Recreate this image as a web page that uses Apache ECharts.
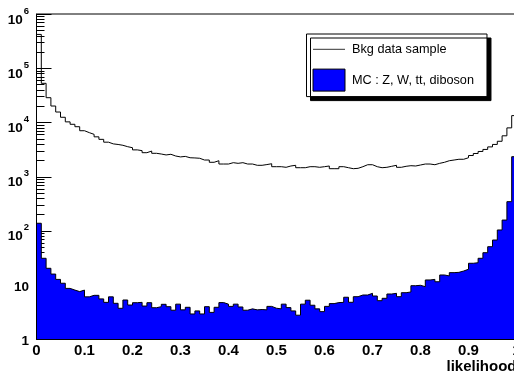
<!DOCTYPE html>
<html>
<head>
<meta charset="utf-8">
<script src="https://cdn.jsdelivr.net/npm/echarts@6/dist/echarts.min.js"></script>
<style>
html,body{margin:0;padding:0;background:#fff;}
#chart{width:514px;height:376px;}
</style>
</head>
<body>
<div id="chart"></div>
<script>
// ---- data ----
const nBins = 100;
const xRange = [0, 1];
const xTickLabels = ['0', '0.1', '0.2', '0.3', '0.4', '0.5', '0.6', '0.7', '0.8', '0.9', '1'];
const seriesNames = ['Bkg data sample', 'MC : Z, W, tt, diboson'];
const xTitle = 'likelihood';

const bkgData = [
  420000, 52500, 28500, 20000, 15500, 12400, 10200, 9200, 8300, 7000,
  6450, 6000, 5400, 4850, 4300, 4000, 3900, 3770, 3550, 3400,
  3100, 3000, 2750, 2950, 2680, 2600, 2500, 2570, 2390, 2300,
  2350, 2220, 2200, 2170, 2015, 2015, 1830, 1955, 1700, 1700,
  1800, 1750, 1800, 1700, 1700, 1610, 1610, 1660, 1720, 1517,
  1517, 1478, 1563, 1610, 1453, 1453, 1517, 1517, 1478, 1517,
  1563, 1393, 1393, 1517, 1453, 1393, 1416, 1517, 1650, 1650,
  1517, 1453, 1478, 1542, 1610, 1478, 1542, 1583, 1563, 1630,
  1700, 1700, 1650, 1750, 1830, 1955, 2015, 2080, 2080, 2220,
  2440, 2660, 2900, 3160, 3520, 3910, 4470, 5640, 7900, 13300
];

const mcData = [
  137, 30.9, 20.2, 15.8, 12.6, 10.7, 8.6, 8.0, 7.5, 8.0,
  6.0, 6.4, 6.4, 5.5, 4.75, 6.0, 4.56, 3.69, 5.25, 4.24,
  4.68, 4.75, 4.06, 4.68, 3.78, 3.95, 4.37, 3.95, 3.4, 4.4,
  3.45, 3.85, 2.9, 3.3, 2.9, 3.95, 3.1, 3.85, 4.7, 4.4,
  4.0, 4.4, 3.9, 3.4, 3.6, 3.45, 3.5, 3.45, 4.0, 3.7,
  3.6, 4.4, 3.8, 3.3, 2.75, 4.4, 5.2, 4.2, 3.6, 3.2,
  4.0, 4.5, 4.7, 4.75, 5.9, 4.76, 6.04, 6.49, 6.49, 6.97,
  6.22, 5.1, 5.64, 6.77, 6.97, 6.04, 7.16, 7.38, 9.64, 9.8,
  9.25, 12.3, 12.6, 11.4, 15.2, 14.6, 16.8, 17.0, 18.0, 19.4,
  25, 25.6, 30.9, 39.2, 50.6, 67.2, 103, 157, 343, 2320
];

const yMajorTicks = [1, 10, 100, 1000, 10000, 100000, 1000000];
const yMinorTicks = [];
for (let d = 0; d < 6; d++) for (let k = 2; k <= 9; k++) yMinorTicks.push(k * Math.pow(10, d));

// ---- helpers ----
const binW = (xRange[1] - xRange[0]) / nBins;
function stepData(vals) {
  const d = vals.map((v, i) => [xRange[0] + i * binW, v]);
  d.push([xRange[1], vals[vals.length - 1]]);
  return d;
}
const FONT = 'Liberation Sans, Arial, Helvetica, sans-serif';

const tickData = yMajorTicks.map(v => [0, v, 1]).concat(yMinorTicks.map(v => [0, v, 0]));

const chart = echarts.init(document.getElementById('chart'), null, { renderer: 'canvas' });
chart.setOption({
  animation: false,
  backgroundColor: '#fff',
  grid: {
    left: 36.5, top: 14, width: 480, height: 325,
    outerBoundsMode: 'none', containLabel: false,
    show: true, borderColor: '#000', borderWidth: 1, backgroundColor: 'transparent'
  },
  legend: {
    orient: 'vertical', left: 306.5, top: 34,
    padding: [6.5, 13, 5, 6], itemGap: 10.5, itemWidth: 32, itemHeight: 22,
    backgroundColor: '#fff', borderColor: '#000', borderWidth: 1,
    shadowColor: '#000', shadowBlur: 0, shadowOffsetX: 4, shadowOffsetY: 4,
    selectedMode: false,
    textStyle: { fontFamily: FONT, fontSize: 12.7, color: '#000', padding: [0, 0, 0, 2] },
    data: [
      { name: seriesNames[0], itemStyle: { color: 'transparent', borderWidth: 0 }, lineStyle: { color: '#333', width: 1 } },
      { name: seriesNames[1], icon: 'rect', itemStyle: { color: '#0000ff', borderColor: '#000', borderWidth: 1 } }
    ]
  },
  xAxis: {
    type: 'value', min: xRange[0], max: xRange[1], interval: 0.1,
    z: 5,
    name: xTitle, nameLocation: 'end', nameGap: 0,
    nameTextStyle: { fontFamily: FONT, fontWeight: 'bold', fontSize: 15, color: '#000', align: 'right', verticalAlign: 'top', padding: [20, 0, 0, 0] },
    axisLine: { show: true, lineStyle: { color: '#000', width: 1 } },
    axisTick: { show: false },
    splitLine: { show: false },
    axisLabel: {
      margin: 4, fontFamily: FONT, fontWeight: 'bold', fontSize: 15, color: '#000',
      showMinLabel: true, showMaxLabel: true, hideOverlap: false,
      formatter: v => xTickLabels[Math.round(v * 10)]
    }
  },
  yAxis: {
    type: 'log', logBase: 10, min: 1, max: 1000000,
    z: 5,
    axisLine: { show: true, lineStyle: { color: '#000', width: 1 } },
    axisTick: { show: false },
    splitLine: { show: false },
    axisLabel: {
      margin: 7.5, color: '#000', showMinLabel: true, showMaxLabel: true,
      padding: [5, 0, 0, 0],
      formatter: v => {
        const e = Math.round(Math.log10(v));
        if (e === 0) return '{p|1}';
        if (e === 1) return '{p|10}';
        return '{b|10}{s|' + e + '}';
      },
      rich: {
        p: { fontFamily: FONT, fontWeight: 'bold', fontSize: 13.5, color: '#000' },
        b: { fontFamily: FONT, fontWeight: 'bold', fontSize: 13.5, color: '#000', padding: [7, 0, 0, 0], verticalAlign: 'bottom' },
        s: { fontFamily: FONT, fontWeight: 'bold', fontSize: 9.5, color: '#000', verticalAlign: 'top', padding: [0, 0, 0, 1] }
      }
    }
  },
  series: [
    {
      type: 'custom', name: 'ticks', z: 1, silent: true,
      data: tickData,
      renderItem: (params, api) => {
        const p = api.coord([api.value(0), api.value(1)]);
        const len = api.value(2) ? 15 : 8;
        const y = Math.round(p[1]) + 0.5;
        return { type: 'line', shape: { x1: p[0], y1: y, x2: p[0] + len, y2: y }, style: { stroke: '#000', lineWidth: 1 } };
      }
    },
    {
      type: 'line', name: seriesNames[1], step: 'end', z: 2,
      data: stepData(mcData), symbol: 'none',
      itemStyle: { color: '#0000ff' },
      lineStyle: { color: '#000', width: 1 },
      areaStyle: { color: '#0000ff', opacity: 1, origin: 'start' }
    },
    {
      type: 'line', name: seriesNames[0], step: 'end', z: 3,
      data: stepData(bkgData), symbol: 'none',
      itemStyle: { color: '#000' },
      lineStyle: { color: '#000', width: 1 }
    }
  ]
});
</script>
</body>
</html>
